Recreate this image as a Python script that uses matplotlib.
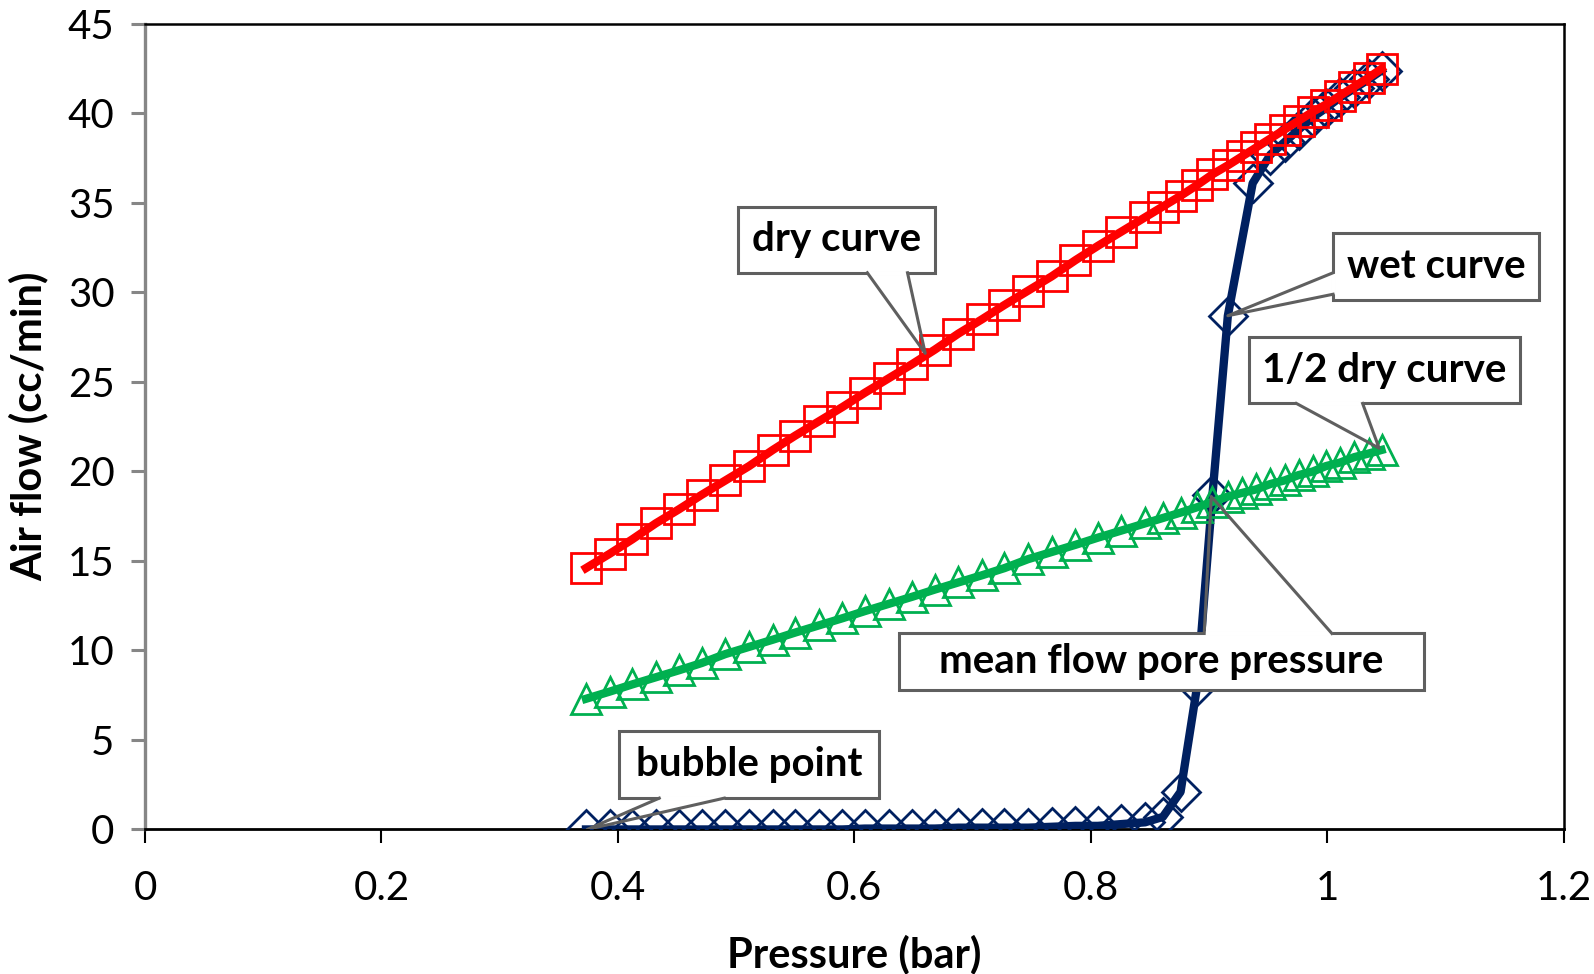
import matplotlib.pyplot as plt
from matplotlib.patches import Rectangle

plt.rcParams['font.family'] = ['Lato', 'DejaVu Sans']

## pressure (bar) and air flow (cc/min)
dry_p = [0.373, 0.393, 0.412, 0.432, 0.452, 0.471, 0.491, 0.511, 0.531, 0.550,
         0.570, 0.590, 0.609, 0.629, 0.649, 0.668, 0.688, 0.708, 0.727, 0.747,
         0.767, 0.787, 0.806, 0.826, 0.846, 0.861, 0.876, 0.890, 0.903, 0.916,
         0.928, 0.940, 0.952, 0.964, 0.976, 0.988, 0.999, 1.011, 1.023, 1.035,
         1.046]
dry_flow = [14.6, 15.4, 16.2, 17.1, 17.9, 18.7, 19.5, 20.3, 21.2, 22.0,
            22.8, 23.6, 24.4, 25.2, 26.0, 26.8, 27.7, 28.5, 29.3, 30.1,
            30.9, 31.8, 32.6, 33.4, 34.2, 34.8, 35.4, 36.0, 36.6, 37.1,
            37.6, 38.1, 38.6, 39.1, 39.6, 40.1, 40.5, 41.0, 41.5, 42.0,
            42.5]
half_flow = [7.3, 7.7, 8.1, 8.5, 8.9, 9.3, 9.8, 10.2, 10.6, 11.0,
             11.4, 11.8, 12.2, 12.6, 13.0, 13.4, 13.8, 14.2, 14.6, 15.1,
             15.5, 15.9, 16.3, 16.7, 17.1, 17.4, 17.7, 18.0, 18.3, 18.6,
             18.8, 19.0, 19.3, 19.5, 19.8, 20.0, 20.3, 20.5, 20.8, 21.0,
             21.2]

wet_p = [0.373, 0.393, 0.412, 0.432, 0.452, 0.471, 0.491, 0.511, 0.531, 0.550,
         0.570, 0.590, 0.609, 0.629, 0.649, 0.668, 0.688, 0.708, 0.727, 0.747,
         0.767, 0.787, 0.806, 0.826, 0.846, 0.861, 0.876, 0.890, 0.903, 0.916,
         0.937, 0.952, 0.964, 0.976, 0.988, 0.999, 1.011, 1.023, 1.035, 1.046]
wet_flow = [0.0, 0.0, 0.0, 0.0, 0.0, 0.0, 0.0, 0.0, 0.0, 0.0,
            0.0, 0.0, 0.05, 0.05, 0.05, 0.05, 0.1, 0.1, 0.1, 0.1,
            0.15, 0.2, 0.2, 0.3, 0.4, 0.7, 2.1, 8.0, 18.7, 28.7,
            36.1, 37.7, 38.4, 39.1, 39.8, 40.3, 40.9, 41.4, 41.9, 42.4]

x_ticks = [0, 0.2, 0.4, 0.6, 0.8, 1, 1.2]
x_ticklabels = ['0', '0.2', '0.4', '0.6', '0.8', '1', '1.2']
y_ticks = [0, 5, 10, 15, 20, 25, 30, 35, 40, 45]

## callouts: text, box (x0, x1, y0, y1), wedge base points, tip
callouts = [
    ('dry curve', (0.502, 0.668, 31.1, 34.8), ((0.611, 31.1), (0.645, 31.1)), (0.660, 26.6)),
    ('wet curve', (1.005, 1.179, 29.6, 33.3), ((1.005, 31.1), (1.005, 29.9)), (0.916, 28.7)),
    ('1/2 dry curve', (0.934, 1.163, 23.8, 27.5), ((0.974, 23.8), (1.030, 23.8)), (1.044, 21.3)),
    ('mean flow pore pressure', (0.638, 1.082, 7.8, 10.95), ((0.896, 10.95), (1.004, 10.95)), (0.902, 18.6)),
    ('bubble point', (0.401, 0.621, 1.75, 5.5), ((0.435, 1.75), (0.490, 1.75)), (0.374, 0.0)),
]

fig = plt.figure(figsize=(15.94, 9.74), dpi=100)
ax = fig.add_axes([0.0910, 0.1484, 0.8899, 0.8270])

ax.plot(wet_p, wet_flow, color='#002060', lw=6, marker='D', ms=19,
        mfc='none', mec='#002060', mew=2.0, zorder=3)
ax.plot(dry_p, dry_flow, color='#FF0000', lw=6, marker='s', ms=22,
        mfc='none', mec='#FF0000', mew=2.0, zorder=4)
ax.plot(dry_p, half_flow, color='#00B050', lw=6, marker='^', ms=22,
        mfc='none', mec='#00B050', mew=2.0, zorder=5)

gray = '#5f5f5f'
for label, (x0, x1, y0, y1), (b1, b2), tip in callouts:
    ax.add_patch(Rectangle((x0, y0), x1 - x0, y1 - y0, fc='white', ec=gray,
                           lw=2.2, zorder=10))
    ax.plot([b1[0], b2[0]], [b1[1], b2[1]], color='white', lw=3.5,
            solid_capstyle='butt', zorder=11)
    ax.plot([b1[0], tip[0], b2[0]], [b1[1], tip[1], b2[1]], color=gray,
            lw=2.2, zorder=11)
    ax.text((x0 + x1) / 2, (y0 + y1) / 2, label, ha='center', va='center',
            fontsize=29, fontweight='bold', zorder=12)

ax.set_xlim(0, 1.2)
ax.set_ylim(0, 45)
ax.set_xticks(x_ticks)
ax.set_xticklabels(x_ticklabels)
ax.set_yticks(y_ticks)
ax.tick_params(axis='both', labelsize=29, direction='out')
ax.tick_params(axis='y', length=10, width=2.2, color='#868686', pad=12)
ax.tick_params(axis='x', length=10, width=1.5, color='black', pad=19)

ax.spines['left'].set_color('#868686')
ax.spines['left'].set_linewidth(2.4)
ax.spines['bottom'].set_linewidth(2.0)
ax.spines['top'].set_linewidth(1.8)
ax.spines['right'].set_linewidth(1.8)

ax.set_xlabel('Pressure (bar)', fontsize=30, fontweight='bold', labelpad=20)
ax.set_ylabel('Air flow (cc/min)', fontsize=30, fontweight='bold', labelpad=14)

fig.savefig('out.png', dpi=100)
